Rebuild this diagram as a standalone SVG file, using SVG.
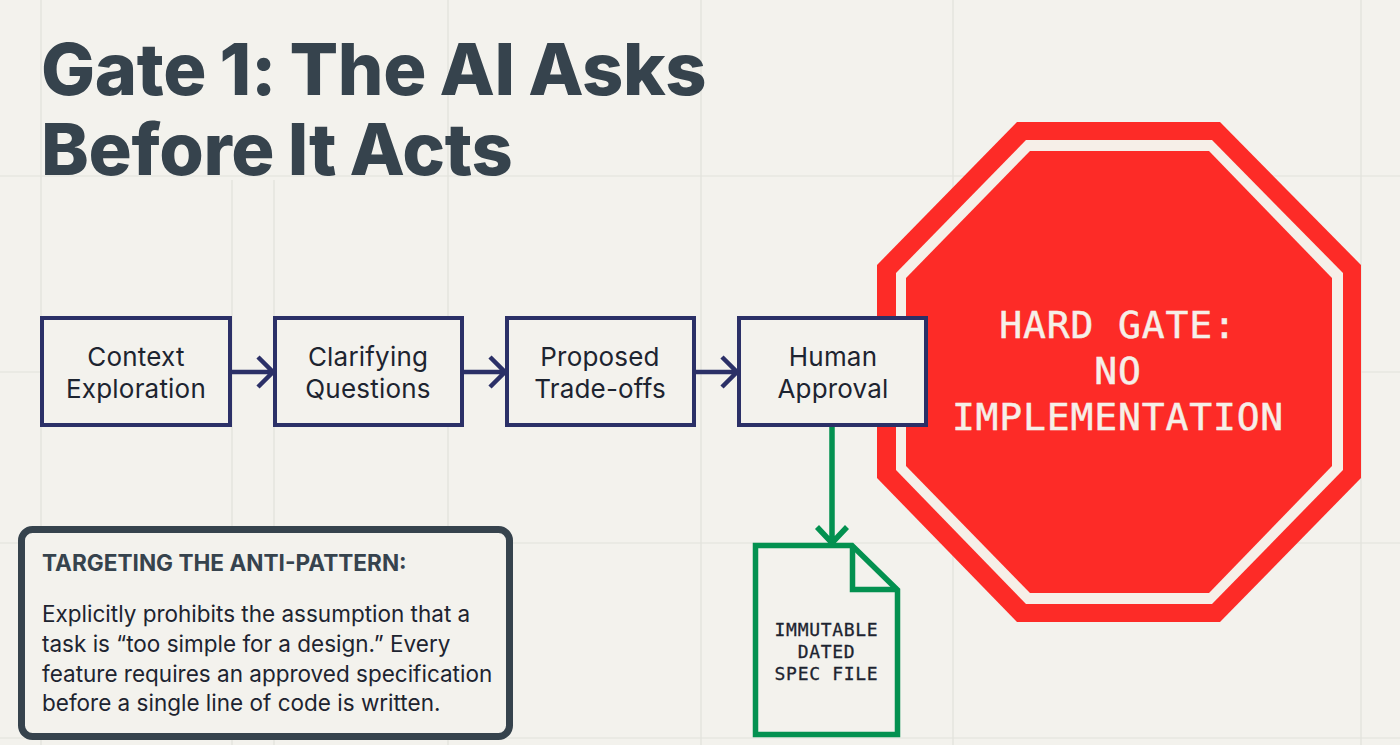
<svg xmlns="http://www.w3.org/2000/svg" width="1400" height="745" viewBox="0 0 1400 745">
<style>
.grid{stroke:#e1e1db;stroke-width:1.2;fill:none}
.box{fill:#f3f2ed;stroke:#2b3067;stroke-width:4}
.lbl{font-family:Inter,"Liberation Sans",sans-serif;font-size:26px;letter-spacing:.2px;fill:#1d2430;text-anchor:middle}
.title{font-family:Inter,"Liberation Sans",sans-serif;font-weight:800;font-size:72px;fill:#36434d;letter-spacing:-.35px;word-spacing:-2px}
.conn{stroke:#2b3067;stroke-width:4.5;fill:none}
.green{stroke:#039150;stroke-width:5.5;fill:none}
.mono{font-family:"DejaVu Sans Mono","Liberation Mono",monospace;font-size:18px;letter-spacing:.7px;fill:#1d2430;stroke:#1d2430;stroke-width:.3;text-anchor:middle}
.big{font-family:"DejaVu Sans Mono","Liberation Mono",monospace;font-size:38px;letter-spacing:.85px;fill:#f6efe8;stroke:#f6efe8;stroke-width:.5;text-anchor:middle}
.body{font-family:Inter,"Liberation Sans",sans-serif;font-size:22.5px;fill:#1d2430}
.head{font-family:Inter,"Liberation Sans",sans-serif;font-weight:700;font-size:22.6px;fill:#36434d}
</style>
<rect width="1400" height="745" fill="#f3f2ed"/>
<g id="grid" class="grid">
<path d="M41 0V745M232 180V745M274 180V745M448 0V745M701 0V745M953 0V745M1361 0V745"/>
<path d="M0 176H1400M0 372H1400M0 543H1400M0 738H1400"/>
</g>
<g id="title"><text class="title" x="41" y="95">Gate 1: The AI Asks</text><text class="title" x="41" y="175">Before It Acts</text></g>
<g id="stop-sign">
<polygon points="1017,122 1220,122 1361,265 1361,478 1220,622 1017,622 877,478 877,265" fill="#fd2b27"/>
<polygon points="1026,140 1212,140 1343,273 1343,470 1212,604 1026,604 896,470 896,273" fill="#f6efe8"/>
<polygon points="1030,151 1209,151 1332,278 1332,466 1209,593 1030,593 906,466 906,278" fill="#fd2b27"/>
<text class="big" x="1118" y="338">HARD GATE:</text>
<text class="big" x="1118" y="384">NO</text>
<text class="big" x="1118" y="430">IMPLEMENTATION</text>
</g>
<g id="connectors">
<path class="conn" d="M232 372H272M258 357L273 372L258 387"/>
<path class="conn" d="M464 372H504M490 357L505 372L490 387"/>
<path class="conn" d="M696 372H736M722 357L737 372L722 387"/>
<path class="green" d="M832 427V543M817 527L832 543L847 527"/>
</g>
<g id="node-context"><rect class="box" x="42" y="318" width="188" height="107"/><text class="lbl" x="136" y="366">Context</text><text class="lbl" x="136" y="398">Exploration</text></g>
<g id="node-clarifying"><rect class="box" x="275" y="318" width="187" height="107"/><text class="lbl" x="368" y="366">Clarifying</text><text class="lbl" x="368" y="398">Questions</text></g>
<g id="node-tradeoffs"><rect class="box" x="507" y="318" width="187" height="107"/><text class="lbl" x="600" y="366">Proposed</text><text class="lbl" x="600" y="398">Trade-offs</text></g>
<g id="node-approval"><rect class="box" x="739" y="318" width="187" height="107"/><text class="lbl" x="833" y="366">Human</text><text class="lbl" x="833" y="398">Approval</text></g>
<g id="node-spec">
<path class="green" d="M755.5 545.5H852L897.5 590V734.5H755.5Z" fill="#f3f2ed"/>
<path class="green" d="M852.5 545.5V589.5H897.5"/>
<text class="mono" x="826.5" y="636">IMMUTABLE</text><text class="mono" x="826.5" y="658">DATED</text><text class="mono" x="826.5" y="680">SPEC FILE</text>
</g>
<g id="callout">
<rect x="21.5" y="529.5" width="488" height="207" rx="11" fill="#f3f2ed" stroke="#36434d" stroke-width="7"/>
<text class="head" x="42" y="571">TARGETING THE ANTI-PATTERN:</text>
<text class="body" x="42" y="622">Explicitly prohibits the assumption that a</text>
<text class="body" x="42" y="652">task is “too simple for a design.” Every</text>
<text class="body" x="42" y="682">feature requires an approved specification</text>
<text class="body" x="42" y="711">before a single line of code is written.</text>
</g>
</svg>
